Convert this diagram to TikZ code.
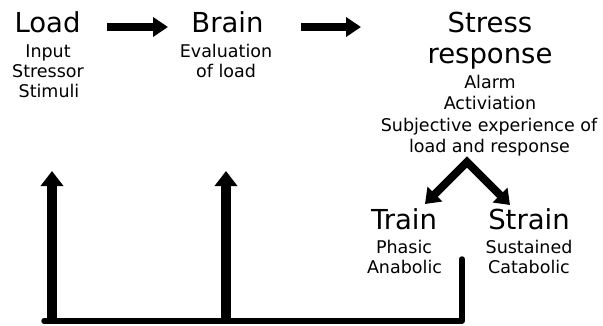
\documentclass[tikz,border=0pt]{standalone}
\usepackage{fontspec}
\setmainfont{DejaVu Sans}
\usetikzlibrary{arrows.meta}
\begin{document}
\begin{tikzpicture}[x=1pt,y=-1pt,
  big/.style={anchor=base,inner sep=0pt,font=\fontsize{27.5}{27.5}\selectfont},
  small/.style={anchor=base,inner sep=0pt,font=\fontsize{17.5}{17.5}\selectfont},
  harrow/.style={line width=8pt,-{Triangle[width=19pt,length=15pt]}},
  varrow/.style={line width=10pt,-{Triangle[width=22pt,length=15pt]}},
  darrow/.style={line width=8pt,line join=miter,{Triangle[width=20pt,length=14pt]}-{Triangle[width=20pt,length=14pt]}},
  base/.style={line width=5.5pt,line cap=round,line join=round}]
\useasboundingbox (0,0) rectangle (603,325);
% Load
\node[big] (load) at (47.5,32) {Load};
\node[small] (input) at (48,57) {Input};
\node[small] (stressor) at (48,77) {Stressor};
\node[small] (stimuli) at (49,97) {Stimuli};
% Brain
\node[big] (brain) at (227.5,32) {Brain};
\node[small] (eval) at (226,57) {Evaluation};
\node[small] (ofload) at (226,77) {of load};
% Stress response
\node[big] (stress) at (490,32) {Stress};
\node[big] (response) at (490,63) {response};
\node[small] (alarm) at (490,88) {Alarm};
\node[small] (activ) at (490,109.5) {Activiation};
\node[small] (subj) at (489,131) {Subjective experience of};
\node[small] (lar) at (489.5,152.5) {load and response};
% Train / Strain
\node[big] (train) at (404,229) {Train};
\node[small] (phasic) at (404,253) {Phasic};
\node[small] (anabolic) at (404.5,273) {Anabolic};
\node[big] (strain) at (529,229) {Strain};
\node[small] (sustained) at (529,253) {Sustained};
\node[small] (catabolic) at (529,273) {Catabolic};
% coordinates
\coordinate (a1s) at (107,27);
\coordinate (a1e) at (168,27);
\coordinate (a2s) at (301,27);
\coordinate (a2e) at (361,27);
\coordinate (apex) at (467,162);
\coordinate (lt) at (425,204);
\coordinate (rt) at (510,205);
\coordinate (bl) at (44,321);
\coordinate (b1) at (52,321);
\coordinate (b2) at (226,321);
\coordinate (br) at (462,321);
\coordinate (rv) at (462,259);
\coordinate (t1) at (52,171);
\coordinate (t2) at (226,171);
% arrows
\draw[harrow] (a1s) -- (a1e);
\draw[harrow] (a2s) -- (a2e);
\draw[darrow] (lt) -- (apex) -- (rt);
\draw[base] (bl) -- (br) -- (rv);
\draw[varrow] (b1) -- (t1);
\draw[varrow] (b2) -- (t2);
\end{tikzpicture}
\end{document}
